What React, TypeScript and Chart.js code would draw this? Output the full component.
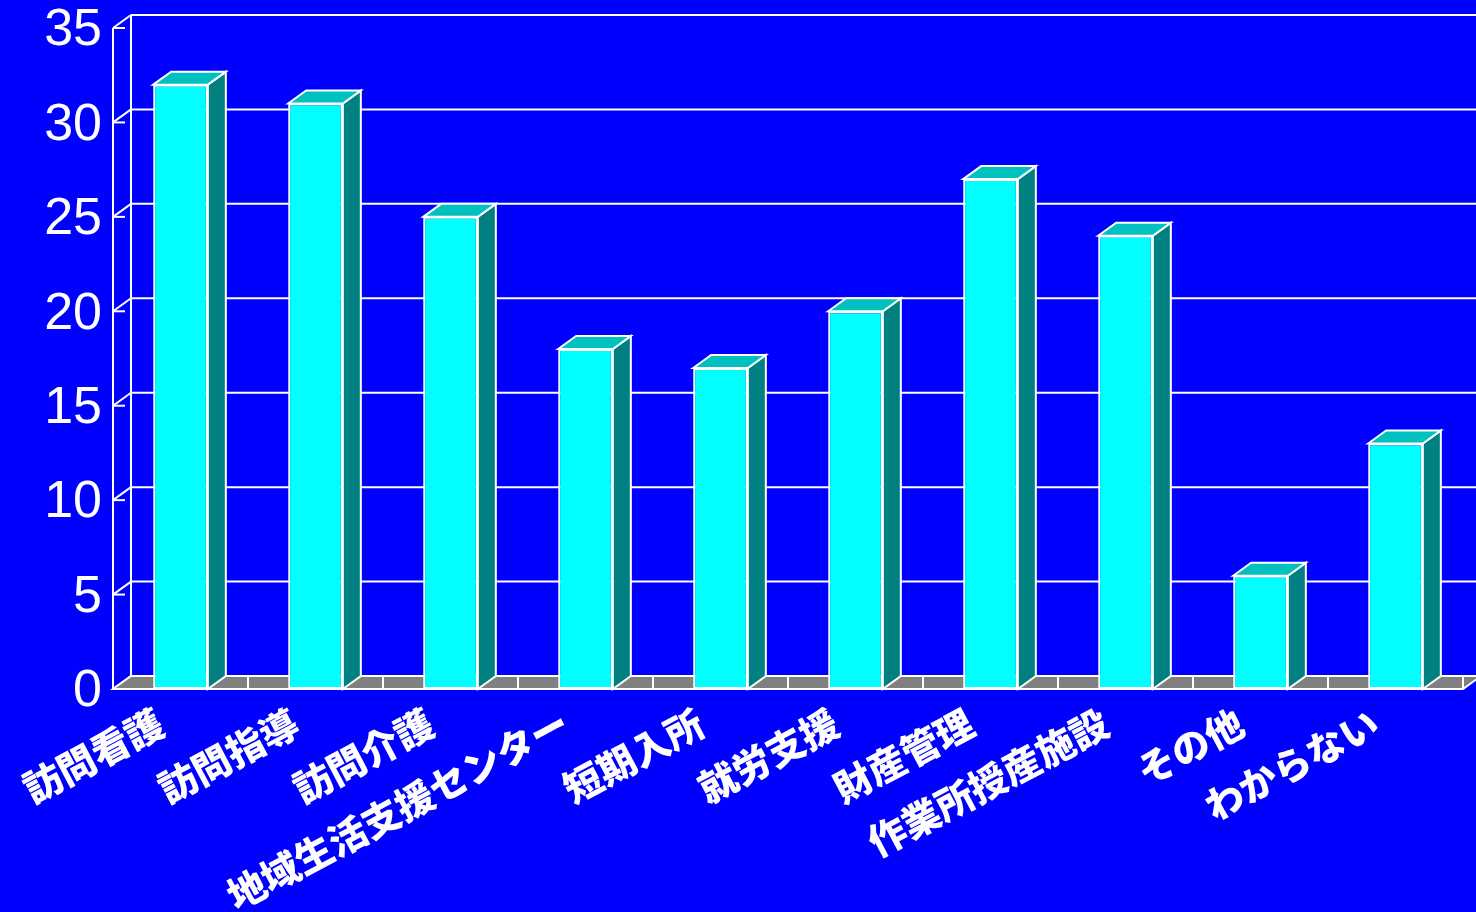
import React, { useEffect, useRef } from 'react';
import { Chart, registerables } from 'chart.js';

Chart.register(...registerables);

// ---- data ----
const categories = [
  '訪問看護',
  '訪問指導',
  '訪問介護',
  '地域生活支援センター',
  '短期入所',
  '就労支援',
  '財産管理',
  '作業所授産施設',
  'その他',
  'わからない',
];
const values = [32, 31, 25, 18, 17, 20, 27, 24, 6, 13];
const yMin = 0;
const yMax = 35;
const yStep = 5;

// ---- styles ----
const BG = '#0000FF';
const FRONT = '#00FFFF';
const TOP = '#00C0C0';
const SIDE = '#008080';
const FLOOR = '#808080';
const LINE = '#FFFFFF';
const DX = 18;
const DY = -13;

function poly(ctx: CanvasRenderingContext2D, pts: number[][], fill: string) {
  ctx.beginPath();
  ctx.moveTo(pts[0][0], pts[0][1]);
  for (let i = 1; i < pts.length; i++) ctx.lineTo(pts[i][0], pts[i][1]);
  ctx.closePath();
  ctx.fillStyle = fill;
  ctx.fill();
  ctx.stroke();
}

function line(ctx: CanvasRenderingContext2D, x1: number, y1: number, x2: number, y2: number) {
  ctx.beginPath();
  ctx.moveTo(x1, y1);
  ctx.lineTo(x2, y2);
  ctx.stroke();
}

const threeD = {
  id: 'threeD',
  beforeDraw(chart: any) {
    const { ctx, width, height } = chart;
    ctx.save();
    ctx.fillStyle = BG;
    ctx.fillRect(0, 0, width, height);
    ctx.restore();
  },
  beforeDatasetsDraw(chart: any) {
    const { ctx, chartArea: a, scales } = chart;
    const ys = scales.y;
    const xs = scales.x;
    ctx.save();
    ctx.strokeStyle = LINE;
    ctx.lineWidth = 2;
    for (let v = yMin; v <= yMax; v += yStep) {
      const py = ys.getPixelForValue(v);
      line(ctx, a.left + DX, py + DY, a.right + DX, py + DY);
      line(ctx, a.left, py, a.left + DX, py + DY);
      line(ctx, a.left, py, a.left + 12, py);
    }
    line(ctx, a.left + DX, a.top + DY, a.left + DX, a.bottom + DY);
    line(ctx, a.left, a.top, a.left, a.bottom);
    poly(
      ctx,
      [
        [a.left, a.bottom],
        [a.right, a.bottom],
        [a.right + DX, a.bottom + DY],
        [a.left + DX, a.bottom + DY],
      ],
      FLOOR
    );
    for (let i = 1; i <= categories.length; i++) {
      const bx = xs.getPixelForValue(i - 0.5);
      line(ctx, bx, a.bottom, bx, a.bottom + DY);
    }
    ctx.restore();
  },
  afterDatasetsDraw(chart: any) {
    const { ctx } = chart;
    const meta = chart.getDatasetMeta(0);
    ctx.save();
    ctx.strokeStyle = LINE;
    ctx.lineWidth = 2;
    meta.data.forEach((el: any) => {
      const { x, y, base, width } = el.getProps(['x', 'y', 'base', 'width'], true);
      const x1 = x - width / 2;
      const x2 = x + width / 2;
      poly(
        ctx,
        [
          [x2, y],
          [x2 + DX, y + DY],
          [x2 + DX, base + DY],
          [x2, base],
        ],
        SIDE
      );
      poly(
        ctx,
        [
          [x1, y],
          [x1 + DX, y + DY],
          [x2 + DX, y + DY],
          [x2, y],
        ],
        TOP
      );
    });
    ctx.restore();
  },
};

export default function App() {
  const ref = useRef<HTMLCanvasElement>(null);

  useEffect(() => {
    const canvas = ref.current!;
    const chart = new Chart(canvas, {
      type: 'bar',
      data: {
        labels: categories,
        datasets: [
          {
            data: values,
            backgroundColor: FRONT,
            borderColor: LINE,
            borderWidth: 2,
            borderSkipped: false,
            barPercentage: 1,
            categoryPercentage: 0.405,
          },
        ],
      },
      options: {
        animation: false,
        responsive: false,
        maintainAspectRatio: false,
        devicePixelRatio: 1,
        layout: { padding: { top: 28, right: 13, left: 0, bottom: 0 } },
        plugins: {
          legend: { display: false },
          tooltip: { enabled: false },
        },
        scales: {
          x: {
            type: 'category',
            grid: { display: false, drawTicks: false },
            border: { display: false },
            ticks: {
              color: '#FFFFFF',
              font: { family: "'Noto Sans CJK JP', sans-serif", size: 38, weight: '900' },
              minRotation: 28,
              maxRotation: 28,
              autoSkip: false,
              padding: 11,
              labelOffset: -20,
            },
            afterFit: (s: any) => {
              s.height = 223;
              s.paddingLeft = 0;
              s.paddingRight = 0;
            },
          },
          y: {
            min: yMin,
            max: yMax,
            grid: { display: false, drawTicks: false },
            border: { display: false },
            ticks: {
              stepSize: yStep,
              color: '#FFFFFF',
              font: { family: "'Liberation Sans', Arial, sans-serif", size: 52 },
              padding: 11,
              labelOffset: 3,
            },
            afterFit: (s: any) => {
              s.width = 113;
              s.paddingTop = 0;
              s.paddingBottom = 0;
            },
          },
        },
      },
      plugins: [threeD],
    } as any);
    return () => chart.destroy();
  }, []);

  return (
    <div
      style={{
        position: 'fixed',
        left: 0,
        top: 0,
        width: 1476,
        height: 912,
        background: BG,
        overflow: 'hidden',
      }}
    >
      <canvas ref={ref} width={1476} height={912} style={{ display: 'block', width: 1476, height: 912 }} />
    </div>
  );
}
